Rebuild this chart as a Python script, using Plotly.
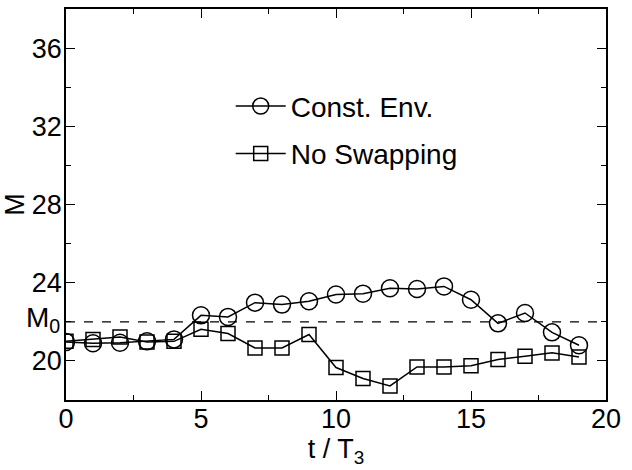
import plotly.graph_objects as go

t_steps = list(range(20))
const_env = [20.97, 20.9, 20.93, 21.0, 21.1, 22.33, 22.25, 22.98, 22.88, 23.05,
             23.4, 23.44, 23.72, 23.68, 23.81, 23.13, 21.92, 22.45, 21.46, 20.8]
no_swap = [21.0, 21.1, 21.22, 20.97, 21.0, 21.62, 21.4, 20.66, 20.66, 21.35,
           19.66, 19.1, 18.72, 19.69, 19.69, 19.75, 20.07, 20.24, 20.41, 20.2]
m0 = 22.0
x_ticks = [0, 5, 10, 15, 20]
y_ticks = [20, 24, 28, 32, 36]

FONT = "Liberation Sans, Arial, sans-serif"

fig = go.Figure()
fig.add_trace(go.Scatter(
    x=t_steps, y=const_env, mode="lines+markers", name="Const. Env.",
    legendgroup="a",
    line=dict(color="black", width=1.5),
    marker=dict(symbol="circle-open", size=17, color="black", line=dict(width=1.5)),
))
fig.add_trace(go.Scatter(
    x=t_steps, y=no_swap, mode="lines+markers", name="No Swapping",
    legendgroup="b",
    line=dict(color="black", width=1.5),
    marker=dict(symbol="square-open", size=14, color="black", line=dict(width=1.5)),
))
fig.add_hline(y=m0, line=dict(color="black", width=1.2, dash="dash"))
fig.add_annotation(x=0, xref="paper", y=m0, yref="y", xanchor="right", yanchor="middle",
                   xshift=-4, yshift=2,
                   text="M<sub>0</sub>", showarrow=False, font=dict(size=28, family=FONT, color="black"))

axis_common = dict(
    showgrid=False, zeroline=False, showline=True, linecolor="black", linewidth=1.5,
    mirror="allticks", ticks="inside", ticklen=9, tickwidth=1, tickcolor="black",
    tickfont=dict(size=27, family=FONT, color="black"),
)
fig.update_xaxes(range=[0, 20], tickvals=x_ticks, ticktext=[str(v) for v in x_ticks],
                 minor=dict(dtick=2.5, tick0=0, ticks="inside", ticklen=5, tickcolor="black"),
                 ticklabelstandoff=-6,
                 title=dict(text="t / T<sub>3</sub>", font=dict(size=27, family=FONT, color="black"), standoff=0),
                 **axis_common)
fig.update_yaxes(range=[18, 38], tickvals=y_ticks, ticktext=[str(v) for v in y_ticks],
                 minor=dict(dtick=2, tick0=18, ticks="inside", ticklen=5, tickcolor="black"),
                 ticklabelstandoff=-3,
                 title=dict(text="M", font=dict(size=27, family=FONT, color="black"), standoff=4),
                 **axis_common)
fig.update_layout(
    width=632, height=470,
    margin=dict(l=66, r=26, t=7, b=70),
    plot_bgcolor="white", paper_bgcolor="white",
    showlegend=True,
    legend=dict(x=0.305, y=0.815, xanchor="left", yanchor="top", bgcolor="rgba(0,0,0,0)",
                font=dict(size=28, family=FONT, color="black"), itemwidth=50, tracegroupgap=8),
)
fig.write_html("out.html", config={"displayModeBar": False},
               post_script="document.body.style.margin='0';document.body.style.overflow='hidden';")
